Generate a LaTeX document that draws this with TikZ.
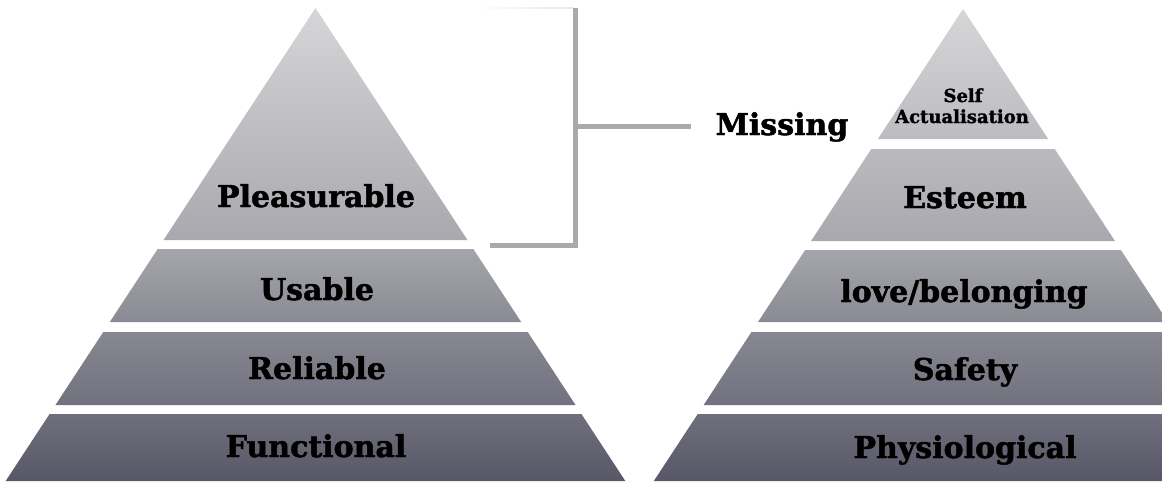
\documentclass[tikz,border=0pt]{standalone}
\usepackage{fontspec}
\setmainfont{DejaVu Serif}[BoldFeatures={FakeBold=1.6}]

% tier colours, from the base of a pyramid up to its apex
\definecolor{pbot}{RGB}{87,87,103}
\definecolor{pfour}{RGB}{114,114,127}
\definecolor{pthree}{RGB}{138,138,148}
\definecolor{ptwo}{RGB}{168,168,174}
\definecolor{ptop}{RGB}{214,214,216}
\definecolor{brk}{RGB}{170,170,170}

\pgfdeclareverticalshading{pyr}{100bp}{%
  color(0bp)=(pbot); color(25bp)=(pbot);
  color(33bp)=(pfour); color(41.8bp)=(pthree);
  color(50.5bp)=(ptwo); color(75bp)=(ptop); color(100bp)=(ptop)}

\begin{document}
\begin{tikzpicture}[x=1pt,y=-1pt,
  lab/.style={font=\bfseries\fontsize{30}{32}\selectfont, inner sep=0pt,
              anchor=base, text=black},
  smalllab/.style={lab, font=\bfseries\fontsize{18}{20}\selectfont},
  bracket/.style={draw=brk, line width=5pt, line join=miter}]

\useasboundingbox (0,0) rectangle (1162,482);

% left pyramid: four tiers cut from one shaded triangle
\begin{scope}
  \clip \foreach \a/\b in {8/240, 249/322, 332/405, 414/481}
    { ({315.5-0.655*(\a-8)},\a) -- ({315.5+0.655*(\a-8)},\a)
      -- ({315.5+0.655*(\b-8)},\b) -- ({315.5-0.655*(\b-8)},\b) -- cycle };
  \shade[shading=pyr] (0,8) rectangle (640,481);
\end{scope}

% right pyramid: five tiers, running off the right edge
\begin{scope}
  \clip \foreach \a/\b in {9/139, 149/241, 250/322, 332/405, 414/481}
    { ({963-0.655*(\a-9)},\a) -- ({963+0.655*(\a-9)},\a)
      -- ({963+0.655*(\b-9)},\b) -- ({963-0.655*(\b-9)},\b) -- cycle };
  \shade[shading=pyr] (640,9) rectangle (1162,481);
\end{scope}

% tier labels
\node[lab] (pleasurable) at (316,207) {Pleasurable};
\node[lab] (usable)      at (317,300) {Usable};
\node[lab] (reliable)    at (317,379) {Reliable};
\node[lab] (functional)  at (316,457) {Functional};

\node[smalllab] (self)   at (963,102) {Self};
\node[smalllab] (actual) at (962,123) {Actualisation};
\node[lab] (esteem)      at (965,208) {Esteem};
\node[lab] (love)        at (964,302) {love/belonging};
\node[lab] (safety)      at (965,380) {Safety};
\node[lab] (physio)      at (965,458) {Physiological};

\node[lab, inner xsep=25pt] (missing) at (782,135) {Missing};

% bracket grouping the top tier
\coordinate (brfoot) at (490,245.5);
\coordinate (brcorner) at (575.5,245.5);
\coordinate (brtop) at (575.5,8);
\coordinate (brmid) at (575.5,126);
\shade[left color=white, right color=black!9] (473,7.3) rectangle (573,8.7);
\draw[bracket] (brfoot) -- (brcorner) -- (brtop);
\draw[bracket] (brmid) -- (brmid -| missing.west);

\end{tikzpicture}
\end{document}
